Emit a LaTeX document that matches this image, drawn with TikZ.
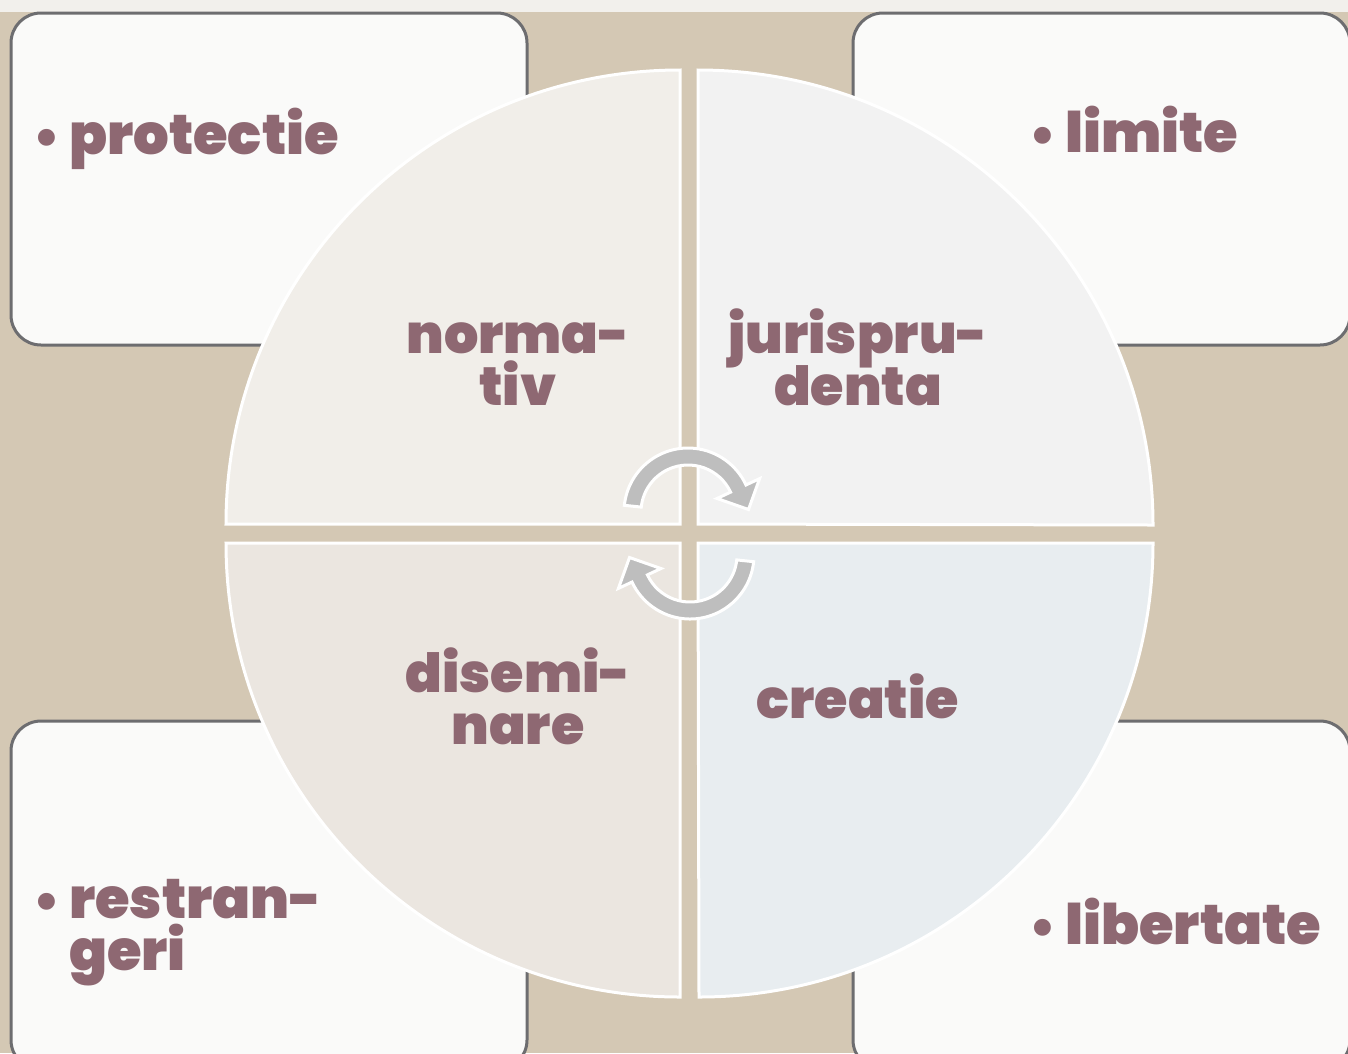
\documentclass[tikz,border=0pt]{standalone}
\usepackage{fontspec}
\setmainfont{Poppins}[UprightFont={* Black}]
\usetikzlibrary{calc}
\definecolor{bgtan}{HTML}{D4C8B4}
\definecolor{topstrip}{HTML}{F2F0EC}
\definecolor{boxfill}{HTML}{FAFAF9}
\definecolor{boxline}{HTML}{6D6D70}
\definecolor{qtl}{HTML}{F1EEE9}
\definecolor{qtr}{HTML}{F2F2F2}
\definecolor{qbl}{HTML}{EBE6E0}
\definecolor{qbr}{HTML}{E8EDF0}
\definecolor{txt}{HTML}{8E6872}
\definecolor{arrowgray}{HTML}{BEBEBE}
\tikzset{
  cornerbox/.style={draw=boxline, fill=boxfill, line width=3pt, rounded corners=30pt},
  quad/.style={draw=white, line width=3pt},
  cyclearrow/.style={fill=arrowgray, draw=white, line width=3pt, line join=miter},
  label/.style={text=txt, inner sep=0pt, font=\fontsize{54}{52}\selectfont},
  bulletlabel/.style={text=txt, inner sep=0pt, anchor=base west, font=\fontsize{56}{52}\selectfont},
}
\newcommand{\bul}{\makebox[31pt][l]{\hspace{-5pt}\fontsize{50}{52}\selectfont\textbullet}}
\newcommand{\twoc}[2]{\vtop{\baselineskip=52pt\lineskiplimit=-100pt\halign{\hfil##\hfil\cr#1\cr#2\cr}}}
\newcommand{\twol}[2]{\vtop{\baselineskip=52pt\lineskiplimit=-100pt\halign{##\hfil\cr#1\cr#2\cr}}}
\begin{document}
\begin{tikzpicture}[x=1pt,y=-1pt]
\useasboundingbox (0,0) rectangle (1348,1053);
\fill[bgtan] (0,0) rectangle (1348,1053);
\fill[topstrip] (0,0) rectangle (1348,12);
% corner boxes
\draw[cornerbox] (11,13) rectangle (527,345);
\draw[cornerbox] (853,13) rectangle (1350,345);
\draw[cornerbox] (11,721) rectangle (527,1070);
\draw[cornerbox] (853,721) rectangle (1350,1070);
% quadrants
\draw[quad, fill=qtl] (680,524) -- ++(-454,0) arc[start angle=180, end angle=270, radius=454] -- cycle;
\draw[quad, fill=qtr] (698,524) -- ++(0,-454) arc[start angle=270, end angle=360, radius=455] -- cycle;
\draw[quad, fill=qbr] (698,543) -- ++(455,0) arc[start angle=0, end angle=90, radius=454] -- cycle;
\draw[quad, fill=qbl] (680,543) -- ++(0,454) arc[start angle=90, end angle=180, radius=454] -- cycle;
% cycle arrows
\begin{scope}[shift={(688,512)}]
\draw[cyclearrow] (186:64) arc[start angle=186, end angle=335, radius=64]
  -- (335:79) -- (60.5,-2.5) -- (335:32) -- (335:47)
  arc[start angle=335, end angle=186, radius=47] -- cycle;
\end{scope}
\begin{scope}[rotate around={180:(689,533.5)}]
\begin{scope}[shift={(688,512)}]
\draw[cyclearrow] (186:64) arc[start angle=186, end angle=335, radius=64]
  -- (335:79) -- (60.5,-2.5) -- (335:32) -- (335:47)
  arc[start angle=335, end angle=186, radius=47] -- cycle;
\end{scope}
\end{scope}
% quadrant labels
\node[label, anchor=base] (normativ) at (518,353) {\twoc{norma-}{tiv}};
\node[label, anchor=base] (juris) at (858,353) {\twoc{jurispru-}{denta}};
\node[label, anchor=base] (disem) at (518,692) {\twoc{disemi-}{nare}};
\node[label, anchor=base] (creatie) at (858,718) {creatie};
% box labels
\node[bulletlabel] (protectie) at (38,154) {\bul protectie};
\node[bulletlabel] (limite) at (1034,152) {\bul limite};
\node[bulletlabel] (restran) at (38,918) {\twol{\bul restran-}{\hspace{31pt}geri}};
\node[bulletlabel] (libertate) at (1034,944) {\bul libertate};
\end{tikzpicture}
\end{document}
